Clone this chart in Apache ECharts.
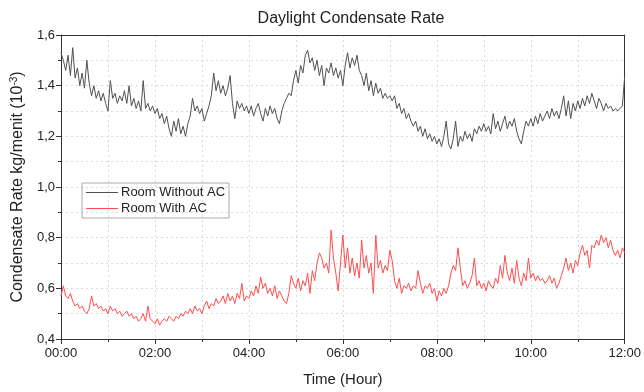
<!DOCTYPE html>
<html>
<head>
<meta charset="utf-8">
<script src="https://cdn.jsdelivr.net/npm/echarts@6/dist/echarts.min.js"></script>
<style>
    html, body { margin: 0; padding: 0; background: #fff; }
    #chart { width: 644px; height: 392px; }
</style>
</head>
<body>
<div id="chart"></div>
<script>
// samples every 3 minutes, 00:00 .. 12:00
const stepMin = 3;
const xTicks = ['00:00', '02:00', '04:00', '06:00', '08:00', '10:00', '12:00'];
const yTicks = [0.4, 0.6, 0.8, 1.0, 1.2, 1.4, 1.6];

// Room Without AC
const withoutAC = [
    1.53, 1.50, 1.46, 1.52, 1.44, 1.55, 1.43, 1.47, 1.40, 1.45, 1.39, 1.50, 1.41, 1.36, 1.40, 1.35, 1.38, 1.34, 1.37, 1.33,
    1.30, 1.42, 1.35, 1.37, 1.33, 1.36, 1.34, 1.38, 1.33, 1.40, 1.32, 1.35, 1.31, 1.34, 1.30, 1.42, 1.31, 1.33, 1.30, 1.32,
    1.29, 1.31, 1.27, 1.29, 1.25, 1.28, 1.23, 1.20, 1.26, 1.22, 1.27, 1.21, 1.24, 1.20, 1.25, 1.28, 1.35, 1.30, 1.32, 1.29,
    1.31, 1.26, 1.29, 1.32, 1.36, 1.45, 1.38, 1.42, 1.37, 1.40, 1.36, 1.39, 1.44, 1.33, 1.27, 1.34, 1.31, 1.33, 1.30, 1.32,
    1.29, 1.32, 1.28, 1.31, 1.33, 1.29, 1.26, 1.31, 1.28, 1.32, 1.29, 1.31, 1.27, 1.25, 1.30, 1.33, 1.35, 1.37, 1.36, 1.42,
    1.46, 1.41, 1.48, 1.45, 1.52, 1.54, 1.49, 1.51, 1.46, 1.50, 1.44, 1.48, 1.40, 1.47, 1.45, 1.49, 1.44, 1.47, 1.43, 1.46,
    1.40, 1.48, 1.53, 1.47, 1.51, 1.48, 1.52, 1.46, 1.44, 1.40, 1.45, 1.38, 1.42, 1.36, 1.41, 1.37, 1.39, 1.35, 1.37, 1.35,
    1.36, 1.34, 1.36, 1.31, 1.33, 1.29, 1.31, 1.27, 1.29, 1.26, 1.24, 1.26, 1.22, 1.24, 1.20, 1.23, 1.19, 1.21, 1.18, 1.20,
    1.17, 1.19, 1.16, 1.20, 1.26, 1.17, 1.15, 1.19, 1.26, 1.16, 1.20, 1.18, 1.22, 1.19, 1.21, 1.18, 1.23, 1.21, 1.24, 1.22,
    1.25, 1.22, 1.24, 1.21, 1.29, 1.23, 1.26, 1.22, 1.25, 1.28, 1.23, 1.26, 1.24, 1.27, 1.22, 1.19, 1.17, 1.22, 1.26, 1.24,
    1.27, 1.24, 1.28, 1.25, 1.29, 1.26, 1.28, 1.30, 1.27, 1.31, 1.28, 1.30, 1.27, 1.31, 1.36, 1.28, 1.34, 1.27, 1.33, 1.30,
    1.34, 1.31, 1.35, 1.32, 1.36, 1.33, 1.37, 1.34, 1.31, 1.35, 1.33, 1.30, 1.33, 1.31, 1.32, 1.30, 1.31, 1.30, 1.31, 1.32,
    1.44
];

// Room With AC
const withAC = [
    0.57, 0.61, 0.57, 0.56, 0.58, 0.55, 0.53, 0.54, 0.52, 0.53, 0.51, 0.50, 0.52, 0.57, 0.53, 0.54, 0.52, 0.53, 0.51, 0.52,
    0.50, 0.53, 0.51, 0.52, 0.50, 0.51, 0.49, 0.50, 0.51, 0.49, 0.50, 0.48, 0.49, 0.47, 0.48, 0.50, 0.47, 0.53, 0.48, 0.47,
    0.46, 0.48, 0.455, 0.47, 0.48, 0.47, 0.49, 0.48, 0.47, 0.49, 0.48, 0.50, 0.49, 0.51, 0.50, 0.52, 0.50, 0.53, 0.51, 0.52,
    0.50, 0.53, 0.55, 0.52, 0.54, 0.53, 0.56, 0.54, 0.55, 0.57, 0.54, 0.58, 0.55, 0.57, 0.54, 0.58, 0.56, 0.62, 0.55, 0.57,
    0.56, 0.59, 0.57, 0.61, 0.58, 0.645, 0.60, 0.62, 0.58, 0.60, 0.57, 0.61, 0.56, 0.59, 0.57, 0.55, 0.54, 0.58, 0.65, 0.62,
    0.60, 0.64, 0.59, 0.63, 0.61, 0.66, 0.58, 0.67, 0.63, 0.70, 0.74, 0.72, 0.68, 0.70, 0.66, 0.83, 0.72, 0.66, 0.59, 0.70,
    0.81, 0.68, 0.76, 0.66, 0.72, 0.65, 0.70, 0.64, 0.79, 0.68, 0.73, 0.66, 0.70, 0.58, 0.81, 0.68, 0.71, 0.66, 0.69, 0.67,
    0.75, 0.71, 0.63, 0.60, 0.64, 0.58, 0.61, 0.60, 0.62, 0.59, 0.61, 0.60, 0.67, 0.62, 0.58, 0.61, 0.60, 0.62, 0.58, 0.60,
    0.55, 0.59, 0.57, 0.60, 0.58, 0.61, 0.66, 0.69, 0.67, 0.76, 0.68, 0.61, 0.63, 0.60, 0.62, 0.65, 0.72, 0.61, 0.63, 0.60,
    0.62, 0.59, 0.63, 0.61, 0.60, 0.64, 0.62, 0.69, 0.64, 0.73, 0.66, 0.63, 0.68, 0.62, 0.71, 0.64, 0.61, 0.66, 0.63, 0.72,
    0.64, 0.66, 0.63, 0.65, 0.63, 0.64, 0.62, 0.63, 0.65, 0.62, 0.64, 0.60, 0.62, 0.65, 0.68, 0.72, 0.67, 0.70, 0.66, 0.71,
    0.69, 0.74, 0.77, 0.73, 0.75, 0.68, 0.77, 0.76, 0.79, 0.77, 0.81, 0.78, 0.80, 0.76, 0.79, 0.75, 0.73, 0.75, 0.72, 0.76,
    0.74
];

const textColor = '#222';
const axisColor = '#333';
const blackLine = '#505050';
const redLine = '#ff4d4d';

function pairs(list) {
    return list.map((v, i) => [i * stepMin, v]);
}

function fmtTime(min) {
    const h = Math.round(min / 60);
    return (h < 10 ? '0' + h : '' + h) + ':00';
}

const chart = echarts.init(document.getElementById('chart'));

const gridLine = {
    show: true,
    lineStyle: { color: '#dadada', type: [2, 3], width: 1 }
};

// plain frame line for the top and right sides
const frameAxis = {
    show: true,
    axisLine: { show: true, onZero: false, lineStyle: { color: axisColor, width: 1 } },
    axisTick: { show: false },
    axisLabel: { show: false },
    splitLine: { show: false }
};

const options = {
    animation: false,
    title: {
        text: 'Daylight Condensate Rate',
        left: 346,
        top: 6,
        textAlign: 'center',
        textStyle: {
            fontFamily: 'Liberation Sans',
            fontSize: 16,
            fontWeight: 'normal',
            color: textColor
        }
    },
    legend: {
        orient: 'vertical',
        left: 82,
        top: 183,
        padding: [3, 4, 3, 4],
        itemGap: 3,
        itemWidth: 32,
        itemHeight: 1,
        borderColor: '#aaa',
        borderWidth: 1,
        borderRadius: 0,
        icon: 'rect',
        textStyle: {
            fontFamily: 'Liberation Sans',
            fontSize: 13,
            color: textColor,
            padding: [0, 0, 0, -2]
        },
        data: [
            { name: 'Room Without AC', itemStyle: { color: blackLine } },
            { name: 'Room With AC', itemStyle: { color: redLine } }
        ]
    },
    grid: {
        left: 61,
        right: 16,
        top: 35,
        bottom: 49
    },
    xAxis: [{
        type: 'value',
        min: 0,
        max: 720,
        interval: 120,
        name: 'Time (Hour)',
        nameLocation: 'middle',
        nameGap: 33,
        nameTextStyle: {
            fontFamily: 'Liberation Sans',
            fontSize: 15,
            color: textColor
        },
        axisLine: { show: true, lineStyle: { color: axisColor, width: 1 } },
        axisTick: { show: true, length: 5, lineStyle: { color: axisColor } },
        minorTick: { show: true, splitNumber: 2, length: 3, lineStyle: { color: axisColor } },
        axisLabel: {
            fontFamily: 'Liberation Sans',
            fontSize: 13,
            color: textColor,
            margin: 8,
            formatter: function(v) {
                return fmtTime(v);
            }
        },
        splitLine: gridLine,
        minorSplitLine: gridLine
    }, Object.assign({ type: 'value', position: 'top', min: 0, max: 720 }, frameAxis)],
    yAxis: [{
        type: 'value',
        min: yTicks[0],
        max: yTicks[yTicks.length - 1],
        interval: 0.2,
        name: '{a|Condensate Rate kg/menit (10}{s|-3}{a|)}',
        nameLocation: 'middle',
        nameGap: 30,
        nameRotate: 90,
        nameTextStyle: {
            rich: {
                a: { fontFamily: 'Liberation Sans', fontSize: 16, color: textColor },
                s: { fontFamily: 'Liberation Sans', fontSize: 10, color: textColor, verticalAlign: 'top', padding: [0, 0, 8, 0] }
            }
        },
        axisLine: { show: true, lineStyle: { color: axisColor, width: 1 } },
        axisTick: { show: true, length: 5, lineStyle: { color: axisColor } },
        minorTick: { show: true, splitNumber: 2, length: 3, lineStyle: { color: axisColor } },
        axisLabel: {
            fontFamily: 'Liberation Sans',
            fontSize: 13,
            color: textColor,
            margin: 6,
            formatter: function(v) {
                return v.toFixed(1).replace('.', ',');
            }
        },
        splitLine: gridLine,
        minorSplitLine: gridLine
    }, Object.assign({ type: 'value', position: 'right', min: 0.4, max: 1.6 }, frameAxis)],
    series: [
        {
            name: 'Room Without AC',
            type: 'line',
            data: pairs(withoutAC),
            showSymbol: false,
            symbol: 'none',
            color: blackLine,
            lineStyle: { width: 1, color: blackLine }
        },
        {
            name: 'Room With AC',
            type: 'line',
            data: pairs(withAC),
            showSymbol: false,
            symbol: 'none',
            color: redLine,
            lineStyle: { width: 1, color: redLine }
        }
    ]
};

chart.setOption(options);
</script>
</body>
</html>
